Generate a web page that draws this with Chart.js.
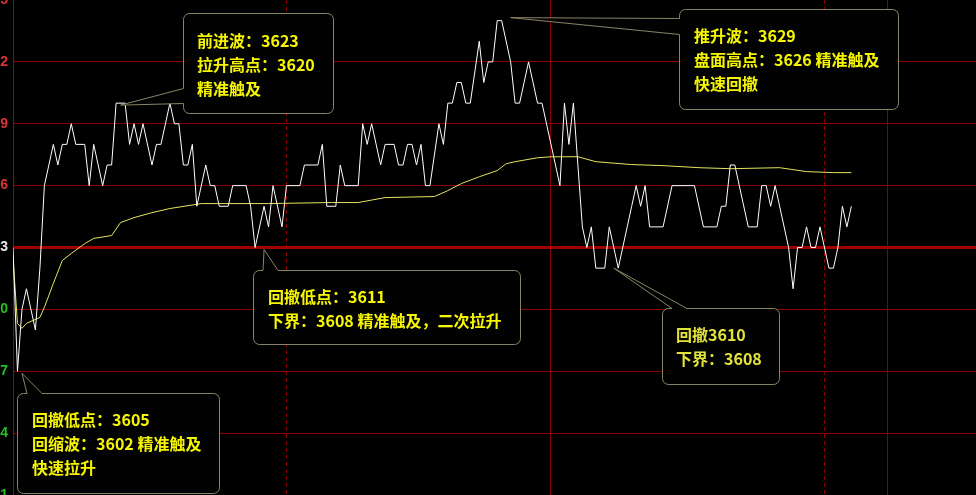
<!DOCTYPE html>
<html>
<head>
<meta charset="utf-8">
<script src="https://cdn.jsdelivr.net/npm/chart.js@4"></script>
<style>
  html, body { margin: 0; padding: 0; background: #000; overflow: hidden; }
  #wrap { position: relative; width: 976px; height: 495px; overflow: hidden; background: #000; }
  #holder { position: absolute; left: -47px; top: 0; width: 1023px; height: 495px; }
  .note {
    position: absolute;
    font: bold 16px "Noto Sans CJK SC", sans-serif;
    line-height: 24px;
    color: #f6f600;
    white-space: nowrap;
  }
</style>
</head>
<body>
<div id="wrap">
  <div id="holder"><canvas id="chart" width="1023" height="495"></canvas></div>
</div>
<script>
// minute index of each turning point of the price line
const priceMinutes = [0,1,2,3,5,6,7,9,10,11,12,13,14,16,17,18,20,21,22,23,
  25,26,27,28,29,31,32,33,35,36,37,38,39,40,41,43,44,45,46,48,
  49,52,53,54,56,57,58,60,61,64,65,68,69,70,72,73,74,77,78,79,
  80,82,83,85,86,87,88,89,90,91,92,93,95,96,97,98,99,100,101,102,
  104,105,106,107,108,109,111,112,113,115,117,118,122,123,124,125,127,128,129,130,
  132,133,134,135,137,138,139,140,141,142,145,147,152,154,157,158,159,160,161,164,
  166,167,168,169,170,173,174,175,176,177,178,179,180,182,183,184,185,186,187];
const prices = [3613,3607,3610,3611,3609,3612,3616,3618,3617,3618,3618,3619,3618,3618,3616,3618,3616,3617,3617,3620,
  3620,3618,3619,3618,3619,3617,3618,3618,3620,3619,3619,3617,3617,3618,3615,3617,3616,3616,3615,3615,
  3616,3616,3615,3613,3615,3614,3616,3614,3616,3616,3617,3617,3618,3615,3615,3617,3616,3616,3619,3618,
  3619,3617,3618,3618,3617,3617,3618,3618,3617,3618,3616,3616,3619,3618,3620,3620,3621,3621,3620,3620,
  3623,3621,3622,3622,3624,3624,3622,3620,3620,3622,3620,3620,3616,3620,3618,3620,3614,3613,3614,3612,
  3612,3614,3613,3612,3614,3615,3616,3615,3616,3614,3614,3616,3616,3614,3614,3615,3615,3617,3617,3614,
  3614,3616,3616,3615,3616,3613,3611,3613,3613,3614,3613,3613,3614,3612,3612,3613,3615,3614,3615];

// average price line
const avgMinutes = [0,1,2,3,6,7,9,11,13,16,18,22,24,27,31,35,42,57,71,77,
  83,94,97,100,104,108,110,112,117,120,126,130,138,145,153,160,171,177,183,187];
const avgPrices = [3612.47,3609.32,3609.08,3609.32,3609.61,3610.10,3611.26,3612.37,3612.71,3613.19,
  3613.44,3613.58,3614.21,3614.45,3614.69,3614.89,3615.13,3615.13,3615.18,3615.18,
  3615.42,3615.47,3615.76,3616.10,3616.43,3616.73,3617.06,3617.16,3617.35,3617.40,
  3617.40,3617.16,3617.02,3616.97,3616.87,3616.82,3616.87,3616.68,3616.63,3616.63];

const yTicks = [3601,3604,3607,3610,3613,3616,3619,3622,3625];
const baseLevel = 3613;
const yMin = 3601, yMax = 3625;
const solidMinutes = [120,195];
const dashedMinutes = [61,181];
const minuteMax = 214.8;

// callouts: text and the point each one points at
const notes = [
  { lines: ['前进波：3623', '拉升高点：3620', '精准触及'], tip: [24, 3620] },
  { lines: ['推升波：3629', '盘面高点：3626 精准触及', '快速回撤'], tip: [111, 3624] },
  { lines: ['回撤低点：3611', '下界：3608 精准触及，二次拉升'], tip: [56, 3613] },
  { lines: ['回撤3610', '下界：3608'], tip: [134, 3612] },
  { lines: ['回撤低点：3605', '回缩波：3602 精准触及', '快速拉升'], tip: [2, 3607] }
];
// where each bubble sits on screen (px)
const noteLayout = [
  { box: [183, 13, 333, 113], side: 'left', base: [88, 103], text: [197, 28], dy: 2 },
  { box: [679, 9, 898, 109], side: 'left', base: [18, 34], text: [694, 23], dy: -3 },
  { box: [253, 270, 520, 344], side: 'top', base: [263, 278], text: [268, 284], dy: 2 },
  { box: [662, 308, 779, 384], side: 'top', base: [672, 687], text: [676, 322], dy: 0, color: '#e2e23a' },
  { box: [17, 393, 219, 493], side: 'top', base: [27, 42], text: [32, 407], dy: 2 }
];

const SHIFT = 47; // canvas sits 47px left so tick labels get cut like the original
const RED_GRID = '#8c0000';

function bubble(ctx, b, side, base, tip) {
  const [x0, y0, x1, y1] = b.map(v => v + 0.5);
  const r = 6;
  ctx.beginPath();
  ctx.moveTo(x0 + r, y0);
  if (side === 'top') {
    ctx.lineTo(base[0] + SHIFT, y0);
    ctx.lineTo(tip.x, tip.y);
    ctx.lineTo(base[1] + SHIFT, y0);
  }
  ctx.lineTo(x1 - r, y0);
  ctx.arcTo(x1, y0, x1, y0 + r, r);
  ctx.lineTo(x1, y1 - r);
  ctx.arcTo(x1, y1, x1 - r, y1, r);
  ctx.lineTo(x0 + r, y1);
  ctx.arcTo(x0, y1, x0, y1 - r, r);
  if (side === 'left') {
    ctx.lineTo(x0, base[1]);
    ctx.lineTo(tip.x, tip.y);
    ctx.lineTo(x0, base[0]);
  }
  ctx.lineTo(x0, y0 + r);
  ctx.arcTo(x0, y0, x0 + r, y0, r);
  ctx.closePath();
}

const calloutPlugin = {
  id: 'callouts',
  afterDraw(chart) {
    const ctx = chart.ctx;
    const xs = chart.scales.x, ys = chart.scales.y;
    ctx.save();
    notes.forEach((n, i) => {
      const lay = noteLayout[i];
      const tip = { x: xs.getPixelForValue(n.tip[0]), y: ys.getPixelForValue(n.tip[1]) + lay.dy };
      const box = [lay.box[0] + SHIFT, lay.box[1], lay.box[2] + SHIFT, lay.box[3]];
      const base = lay.side === 'left' ? [lay.base[0] + 0.5, lay.base[1] + 0.5] : lay.base;
      bubble(ctx, box, lay.side, base, tip);
      ctx.fillStyle = '#020202';
      ctx.fill();
      ctx.strokeStyle = '#8a8466';
      ctx.lineWidth = 1;
      ctx.stroke();
    });
    ctx.restore();
  }
};

function fixedTicks(values) {
  return scale => { scale.ticks = values.map(v => ({ value: v })); };
}

function yGridColor(c) {
  if (!c.tick) return RED_GRID;
  if (c.tick.value === baseLevel) return '#a00000';
  if (c.tick.value === yMax) return 'rgba(0,0,0,0)';
  return RED_GRID;
}

new Chart(document.getElementById('chart'), {
  type: 'line',
  data: {
    datasets: [
      {
        label: '价格',
        data: priceMinutes.map((m, i) => ({ x: m, y: prices[i] })),
        borderColor: '#ffffff',
        borderWidth: 1,
        pointRadius: 0,
        tension: 0
      },
      {
        label: '均价',
        data: avgMinutes.map((m, i) => ({ x: m, y: avgPrices[i] })),
        borderColor: '#e4e460',
        borderWidth: 1,
        pointRadius: 0,
        tension: 0
      }
    ]
  },
  options: {
    responsive: false,
    devicePixelRatio: 1,
    animation: false,
    events: [],
    layout: { padding: 0, autoPadding: false },
    plugins: { legend: { display: false }, tooltip: { enabled: false } },
    scales: {
      x: {
        type: 'linear', min: 0, max: minuteMax,
        afterBuildTicks: fixedTicks(solidMinutes),
        afterFit: s => { s.height = 0; s.paddingLeft = 0; s.paddingRight = 0; },
        ticks: { display: false },
        grid: { color: RED_GRID, lineWidth: 1, drawTicks: false },
        border: { display: false }
      },
      x2: {
        type: 'linear', position: 'bottom', min: 0, max: minuteMax,
        afterBuildTicks: fixedTicks(dashedMinutes),
        afterFit: s => { s.height = 0; s.paddingLeft = 0; s.paddingRight = 0; },
        ticks: { display: false },
        grid: { color: RED_GRID, lineWidth: 1, drawTicks: false },
        border: { display: false, dash: [4, 3] }
      },
      y: {
        type: 'linear', min: yMin, max: yMax,
        afterBuildTicks: fixedTicks(yTicks),
        afterFit: s => { s.width = 13 + SHIFT; s.paddingTop = 0; s.paddingBottom = 0; },
        ticks: {
          padding: 5,
          font: { family: 'Liberation Sans', size: 14, weight: 'bold' },
          color: c => c.tick.value > baseLevel ? '#d83434' : (c.tick.value === baseLevel ? '#e8e8e8' : '#22c022'),
          callback: v => String(v)
        },
        grid: {
          drawTicks: false,
          color: yGridColor,
          lineWidth: c => c.tick && c.tick.value === baseLevel ? 3 : 1
        },
        border: { display: true, color: '#a00000', width: 1 }
      }
    }
  },
  plugins: [calloutPlugin]
});

// callout text as real text
const wrap = document.getElementById('wrap');
notes.forEach((n, i) => {
  const lay = noteLayout[i];
  const d = document.createElement('div');
  d.className = 'note';
  d.style.left = lay.text[0] + 'px';
  d.style.top = lay.text[1] + 'px';
  if (lay.color) d.style.color = lay.color;
  d.innerHTML = n.lines.join('<br>');
  wrap.appendChild(d);
});
</script>
</body>
</html>
